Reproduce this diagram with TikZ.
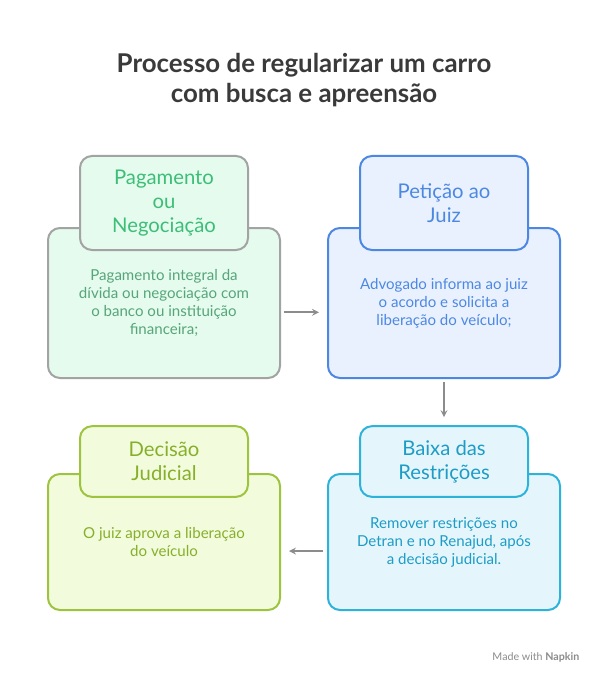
\documentclass[tikz,border=0pt]{standalone}
\usepackage{fontspec}
\setmainfont{Lato}
\usetikzlibrary{positioning}
\definecolor{titlegray}{HTML}{3A3A3A}
\definecolor{arrowgray}{HTML}{8C8C8C}
\definecolor{grayedge}{HTML}{A3A3A3}
\definecolor{greenfill}{HTML}{E4FBEE}
\definecolor{greentext}{HTML}{3DBE77}
\definecolor{blueedge}{HTML}{4C88E2}
\definecolor{bluefill}{HTML}{EAF1FE}
\definecolor{bluetext}{HTML}{4C88E2}
\definecolor{cyanedge}{HTML}{2DB2DA}
\definecolor{cyanfill}{HTML}{E4F6FC}
\definecolor{cyantext}{HTML}{1E9CC6}
\definecolor{oliveedge}{HTML}{9DC43E}
\definecolor{olivefill}{HTML}{F3FBDD}
\definecolor{olivetext}{HTML}{86B02A}
\tikzset{
  card/.style={draw, line width=1.5pt, rounded corners=9pt, minimum width=174pt, inner sep=0pt, align=center, font=\fontsize{11.3}{13.5}\selectfont},
  tab/.style={draw, line width=1.5pt, rounded corners=9pt, minimum width=126pt, inner sep=0pt, align=center, font=\fontsize{15.2}{18}\selectfont},
  flow/.style={->, arrowgray, line width=1.3pt, >=stealth}
}
\begin{document}
\begin{tikzpicture}[x=0.75pt, y=-0.75pt]
 \useasboundingbox [fill=white] (0,0) rectangle (608,684);
 \node [titlegray, font=\bfseries\fontsize{19.4}{23}\selectfont, align=center] (title) at (304,80) {Processo de regularizar um carro\\com busca e apreensão};

 % cards
 \node [card, draw=grayedge, fill=greenfill, text=greentext!60!gray, minimum height=112.5pt] (pay) at (164,303) {Pagamento integral da\\dívida ou negociação com\\o banco ou instituição\\financeira;};
 \node [tab, draw=grayedge, fill=greenfill, text=greentext, minimum height=70.5pt] (payT) at (164,203) {Pagamento\\ou\\Negociação};

 \node [card, draw=blueedge, fill=bluefill, text=bluetext, minimum height=112.5pt] (pet) at (444,303) {Advogado informa ao juiz\\o acordo e solicita a\\liberação do veículo;};
 \node [tab, draw=blueedge, fill=bluefill, text=bluetext, minimum height=70.5pt] (petT) at (444,203) {Petição ao\\Juiz};

 \node [card, draw=cyanedge, fill=cyanfill, text=cyantext, minimum height=102pt] (low) at (444,542) {Remover restrições no\\Detran e no Renajud, após\\a decisão judicial.};
 \node [tab, draw=cyanedge, fill=cyanfill, text=cyantext, minimum height=53pt] (lowT) at (444,461.5) {Baixa das\\Restrições};

 \node [card, draw=oliveedge, fill=olivefill, text=olivetext, minimum height=102pt] (dec) at (164,542) {O juiz aprova a liberação\\do veículo};
 \node [tab, draw=oliveedge, fill=olivefill, text=olivetext, minimum height=53pt] (decT) at (164,461.5) {Decisão\\Judicial};

 % connectors
 \draw [flow] ([xshift=2pt, yshift=-7pt]pay.east) -- ([xshift=-6pt, yshift=-7pt]pet.west);
 \draw [flow] ([yshift=-2pt]pet.south) -- ([yshift=6pt]lowT.north);
 \draw [flow] ([xshift=-3pt, yshift=-6.75pt]low.west) -- ([xshift=6pt, yshift=-6.75pt]dec.east);

 \node [arrowgray, font=\fontsize{8}{10}\selectfont, anchor=east] (made) at (584,657) {Made with \textbf{Napkin}};
\end{tikzpicture}
\end{document}
